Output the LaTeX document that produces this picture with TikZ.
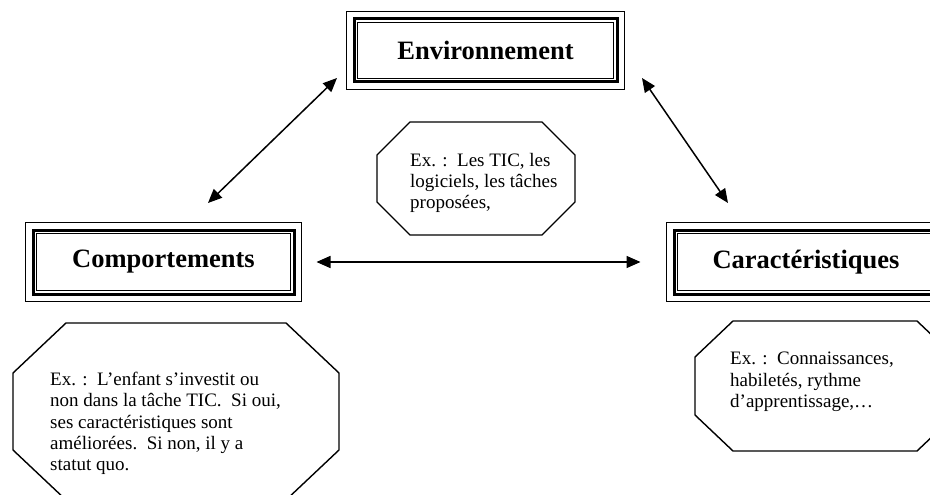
\documentclass[tikz,border=0pt]{standalone}
\usepackage{fontspec}
\setmainfont{Liberation Serif}
\usetikzlibrary{arrows.meta}
% octagon outline: left, top, right, bottom, chamfer x, chamfer y
\newcommand\octa[6]{%
  \draw[octo] (#1+#5,#2) -- (#3-#5,#2) -- (#3,#2+#6) -- (#3,#4-#6)
    -- (#3-#5,#4) -- (#1+#5,#4) -- (#1,#4-#6) -- (#1,#2+#6) -- cycle;}
% outer and inner thin lines around a thick-framed title node
\newcommand\triframe[1]{%
  \draw[line width=1.4pt] ([shift={(-6pt,6pt)}]#1.north west) rectangle ([shift={(6pt,-6pt)}]#1.south east);
  \draw[line width=1.2pt] ([shift={(5pt,-5pt)}]#1.north west) rectangle ([shift={(-5pt,5pt)}]#1.south east);}
\begin{document}
\begin{tikzpicture}[x=1pt,y=-1pt,
  titlebox/.style={draw, line width=3pt, inner sep=0pt,
    font=\fontsize{26.5}{30}\selectfont\bfseries},
  octo/.style={draw, line width=1.4pt, line join=miter},
  note/.style={inner sep=0pt, anchor=north west, align=left,
    font=\fontsize{19}{21.3}\selectfont},
  link/.style={line width=1.5pt,
    {Triangle[length=14pt,width=12pt]}-{Triangle[length=14pt,width=12pt]}},
]
\useasboundingbox (0,0) rectangle (930,495);
\fill[white] (0,0) rectangle (930,495);

% the three title frames
\node[titlebox, minimum width=263pt, minimum height=63pt] (env) at (485.5,50.5) {Environnement};
\triframe{env}
\node[titlebox, minimum width=261pt, minimum height=64pt] (comp) at (163.5,262) {Comportements};
\triframe{comp}
\node[titlebox, minimum width=264pt, minimum height=64pt] (car) at (806,262) {Caractéristiques};
\triframe{car}

% links between the three poles
\coordinate (envL) at (337,78);
\coordinate (compT) at (208,203);
\coordinate (envR) at (642,78);
\coordinate (carT) at (728,203);
\draw[link] (compT) -- (envL);
\draw[link] (envR) -- (carT);
\draw[link, shorten <=21pt, shorten >=32pt] (comp.east) -- (car.west);

% example notes
\octa{377}{122}{575}{235}{33}{33}
\node[note] (envnote) at (410,153) {Ex. :\ \ Les TIC, les\\logiciels, les tâches\\proposées,};

\octa{13}{323}{339}{500}{53}{50}
\node[note] (compnote) at (50,372) {Ex. :\ \ L’enfant s’investit ou\\non dans la tâche TIC.\ \ Si oui,\\ses caractéristiques sont\\améliorées.\ \ Si non, il y a\\statut quo.};

\octa{695}{321}{955}{451}{38}{36}
\node[note] (carnote) at (730,352) {Ex. :\ \ Connaissances,\\habiletés, rythme\\d’apprentissage,\dots};
\end{tikzpicture}
\end{document}
